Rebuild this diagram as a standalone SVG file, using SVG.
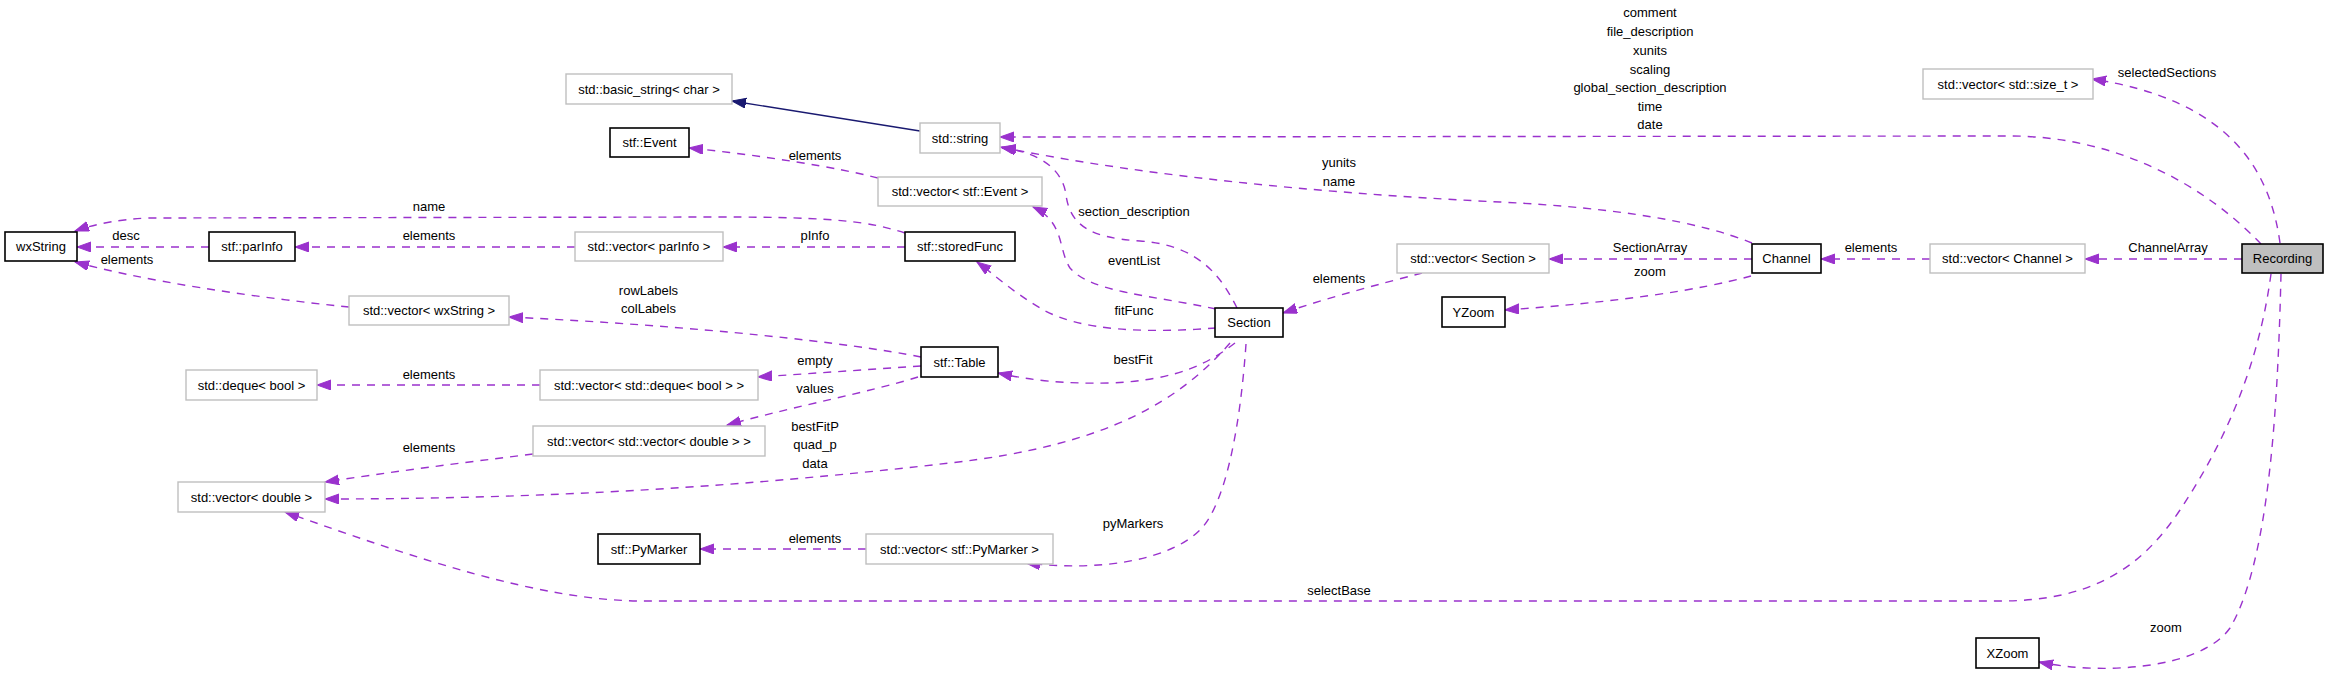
<svg xmlns="http://www.w3.org/2000/svg" width="2328" height="677" viewBox="0 0 2328 677">
<style>
  .n rect { fill: #ffffff; stroke: #000000; stroke-width: 1.6; }
  .n.ext rect { stroke: #bfbfbf; stroke-width: 1.4; }
  .n.main rect { fill: #bfbfbf; }
  text { font-family: "Liberation Sans", Arial, Helvetica, sans-serif; font-size: 13px; fill: #000000; text-anchor: middle; }
  .e { fill: none; stroke: #9a32cd; stroke-width: 1.4; stroke-dasharray: 8,7; marker-end: url(#ap); }
  .inh { fill: none; stroke: #191970; stroke-width: 1.4; marker-end: url(#an); }
</style>
<defs>
  <marker id="ap" markerUnits="userSpaceOnUse" markerWidth="16" markerHeight="12" refX="14" refY="5" orient="auto">
    <path d="M0,0 L14,5 L0,10 z" fill="#9a32cd" stroke="#9a32cd" stroke-width="1"/>
  </marker>
  <marker id="an" markerUnits="userSpaceOnUse" markerWidth="16" markerHeight="12" refX="14" refY="5" orient="auto">
    <path d="M0,0 L14,5 L0,10 z" fill="#191970" stroke="#191970" stroke-width="1"/>
  </marker>
</defs>
<rect x="0" y="0" width="2328" height="677" fill="#ffffff"/>

<g id="connectors">
  <path class="inh" d="M920,131 L732,101"/>
  <path class="e" d="M2261,244 C2200,180 2110,136 2010,136 L1000,137"/>
  <path class="e" d="M1752,243 C1700,222 1620,208 1500,202 C1350,195 1150,178 1001,147"/>
  <path class="e" d="M1237,308 C1222,278 1200,245 1140,241 C1090,238 1070,225 1066,195 C1063,170 1040,152 1002,148"/>
  <path class="e" d="M1216,309 C1150,295 1090,292 1070,268 C1058,250 1065,222 1033,207"/>
  <path class="e" d="M1216,328 C1150,333 1080,332 1040,308 C1010,290 995,275 977,262"/>
  <path class="e" d="M905,247 L723,247"/>
  <path class="e" d="M575,247 L295,247"/>
  <path class="e" d="M209,247 L77,247"/>
  <path class="e" d="M905,233 C870,222 840,217 720,217 L150,218 C120,219 95,224 75,231"/>
  <path class="e" d="M349,307 C250,297 140,280 75,262"/>
  <path class="e" d="M921,357 C850,343 700,326 509,317"/>
  <path class="e" d="M921,366 L758,377"/>
  <path class="e" d="M540,385 L317,385"/>
  <path class="e" d="M918,377 C870,392 800,405 727,425"/>
  <path class="e" d="M533,454 C460,463 390,472 325,482"/>
  <path class="e" d="M1230,343 C1180,400 1110,445 950,463 C800,480 600,499 325,499"/>
  <path class="e" d="M1235,343 C1210,362 1180,380 1110,383 C1060,384 1030,380 998,373"/>
  <path class="e" d="M1246,344 C1240,430 1225,505 1200,530 C1170,560 1100,572 1026,563"/>
  <path class="e" d="M866,549 L700,549"/>
  <path class="e" d="M878,178 C840,168 760,155 689,148"/>
  <path class="e" d="M1752,259 L1549,259"/>
  <path class="e" d="M1751,276 C1700,290 1620,302 1505,310"/>
  <path class="e" d="M1422,273 C1380,284 1330,297 1283,313"/>
  <path class="e" d="M1930,259 L1821,259"/>
  <path class="e" d="M2242,259 L2085,259"/>
  <path class="e" d="M2280,243 C2270,170 2230,100 2092,79"/>
  <path class="e" d="M2271,274 C2262,340 2240,420 2180,510 C2140,570 2090,601 2000,601 L640,601 C540,600 420,560 285,512"/>
  <path class="e" d="M2281,274 C2278,400 2270,560 2230,628 C2200,670 2100,675 2039,662"/>

  <g id="edge-labels">
    <text x="1650" y="17">comment</text>
    <text x="1650" y="36">file_description</text>
    <text x="1650" y="55">xunits</text>
    <text x="1650" y="73.5">scaling</text>
    <text x="1650" y="92">global_section_description</text>
    <text x="1650" y="111">time</text>
    <text x="1650" y="129">date</text>
    <text x="1339" y="167">yunits</text>
    <text x="1339" y="185.5">name</text>
    <text x="2167" y="76.5">selectedSections</text>
    <text x="1650" y="252">SectionArray</text>
    <text x="1650" y="276">zoom</text>
    <text x="1871" y="252">elements</text>
    <text x="2168" y="252">ChannelArray</text>
    <text x="1339" y="283">elements</text>
    <text x="1134" y="216">section_description</text>
    <text x="1134" y="265">eventList</text>
    <text x="1134" y="314.5">fitFunc</text>
    <text x="1133" y="364">bestFit</text>
    <text x="1133" y="528">pyMarkers</text>
    <text x="815" y="160">elements</text>
    <text x="815" y="240">pInfo</text>
    <text x="648.5" y="295">rowLabels</text>
    <text x="648.5" y="313">colLabels</text>
    <text x="815" y="365">empty</text>
    <text x="815" y="393">values</text>
    <text x="815" y="430.5">bestFitP</text>
    <text x="815" y="449">quad_p</text>
    <text x="815" y="468">data</text>
    <text x="815" y="543">elements</text>
    <text x="429" y="211">name</text>
    <text x="429" y="240">elements</text>
    <text x="126" y="240">desc</text>
    <text x="127" y="264">elements</text>
    <text x="429" y="379">elements</text>
    <text x="429" y="452">elements</text>
    <text x="1339" y="595">selectBase</text>
    <text x="2166" y="632">zoom</text>
  </g>
</g>

<g id="node-wxString" class="n"><rect x="5" y="232" width="72" height="29"/><text x="41" y="251">wxString</text></g>
<g id="node-parInfo" class="n"><rect x="209" y="232" width="86" height="29"/><text x="252" y="251">stf::parInfo</text></g>
<g id="node-vector-parInfo" class="n ext"><rect x="575" y="232" width="148" height="29"/><text x="649" y="251">std::vector&lt; parInfo &gt;</text></g>
<g id="node-storedFunc" class="n"><rect x="905" y="232" width="110" height="29"/><text x="960" y="251">stf::storedFunc</text></g>
<g id="node-vector-wxString" class="n ext"><rect x="349" y="296" width="160" height="29"/><text x="429" y="315">std::vector&lt; wxString &gt;</text></g>
<g id="node-basic-string" class="n ext"><rect x="566" y="74" width="166" height="30"/><text x="649" y="93.5">std::basic_string&lt; char &gt;</text></g>
<g id="node-Event" class="n"><rect x="610" y="128" width="79" height="29"/><text x="649.5" y="147">stf::Event</text></g>
<g id="node-string" class="n ext"><rect x="920" y="123" width="80" height="30"/><text x="960" y="142.5">std::string</text></g>
<g id="node-vector-Event" class="n ext"><rect x="878" y="177" width="164" height="29"/><text x="960" y="196">std::vector&lt; stf::Event &gt;</text></g>
<g id="node-Table" class="n"><rect x="921" y="347" width="77" height="30"/><text x="959.5" y="366.5">stf::Table</text></g>
<g id="node-vector-deque" class="n ext"><rect x="540" y="370" width="218" height="30"/><text x="649" y="389.5">std::vector&lt; std::deque&lt; bool &gt; &gt;</text></g>
<g id="node-deque" class="n ext"><rect x="186" y="370" width="131" height="30"/><text x="251.5" y="389.5">std::deque&lt; bool &gt;</text></g>
<g id="node-vector-vector-double" class="n ext"><rect x="533" y="426" width="232" height="30"/><text x="649" y="445.5">std::vector&lt; std::vector&lt; double &gt; &gt;</text></g>
<g id="node-vector-double" class="n ext"><rect x="178" y="482" width="147" height="30"/><text x="251.5" y="501.5">std::vector&lt; double &gt;</text></g>
<g id="node-PyMarker" class="n"><rect x="598" y="534" width="102" height="30"/><text x="649" y="553.5">stf::PyMarker</text></g>
<g id="node-vector-PyMarker" class="n ext"><rect x="866" y="534" width="187" height="30"/><text x="959.5" y="553.5">std::vector&lt; stf::PyMarker &gt;</text></g>
<g id="node-Section" class="n"><rect x="1215" y="308" width="68" height="29"/><text x="1249" y="327">Section</text></g>
<g id="node-vector-Section" class="n ext"><rect x="1397" y="244" width="152" height="29"/><text x="1473" y="263">std::vector&lt; Section &gt;</text></g>
<g id="node-YZoom" class="n"><rect x="1442" y="297" width="63" height="30"/><text x="1473.5" y="316.5">YZoom</text></g>
<g id="node-Channel" class="n"><rect x="1752" y="244" width="69" height="29"/><text x="1786.5" y="263">Channel</text></g>
<g id="node-vector-Channel" class="n ext"><rect x="1930" y="244" width="155" height="29"/><text x="2007.5" y="263">std::vector&lt; Channel &gt;</text></g>
<g id="node-Recording" class="n main"><rect x="2242" y="244" width="81" height="29"/><text x="2282.5" y="263">Recording</text></g>
<g id="node-vector-size_t" class="n ext"><rect x="1923" y="69" width="170" height="30"/><text x="2008" y="88.5">std::vector&lt; std::size_t &gt;</text></g>
<g id="node-XZoom" class="n"><rect x="1976" y="638" width="63" height="30"/><text x="2007.5" y="657.5">XZoom</text></g>
</svg>
